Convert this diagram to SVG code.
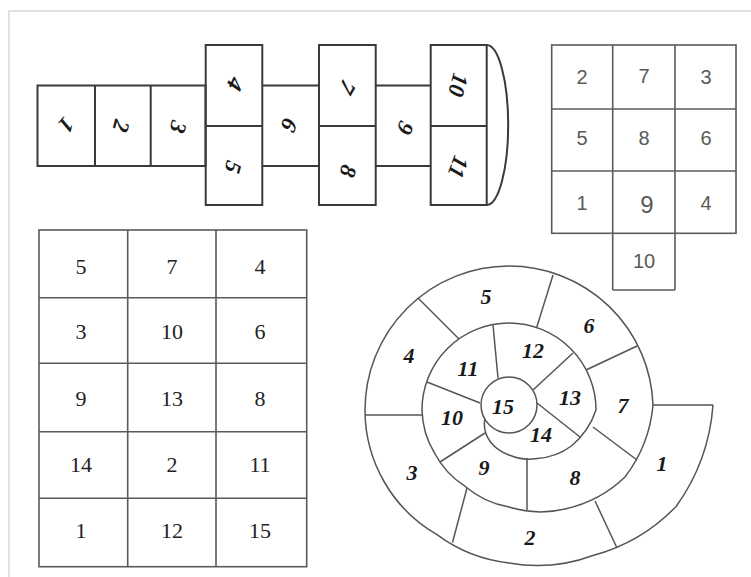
<svg xmlns="http://www.w3.org/2000/svg" width="751" height="577" viewBox="0 0 751 577">
<style>
.frame{fill:none;stroke:#e2e2e2;stroke-width:2}
.ln{fill:none;stroke:#3a3a3a;stroke-width:2}
.g{fill:none;stroke:#5a5a5a;stroke-width:1.6}
.sl{fill:none;stroke:#555;stroke-width:1.5}
.hs{font-family:"Liberation Serif",serif;font-style:italic;font-weight:bold;font-size:23px;fill:#1a1a1a;text-anchor:middle;dominant-baseline:central}
.rg{font-family:"Liberation Sans",sans-serif;font-size:20px;fill:#5a5a5a;text-anchor:middle;dominant-baseline:central}
.lg{font-family:"Liberation Serif",serif;font-size:22px;fill:#222;text-anchor:middle;dominant-baseline:central}
.sp{font-family:"Liberation Serif",serif;font-style:italic;font-weight:bold;font-size:22px;fill:#1a1a1a;text-anchor:middle;dominant-baseline:central}
</style>
<rect x="0" y="0" width="751" height="577" fill="#ffffff"/>
<path class="frame" d="M9,577 V11 H751"/>

<g id="hopscotch">
  <g class="ln">
    <rect x="37.5" y="85.5" width="168" height="80.5"/>
    <line x1="95" y1="85.5" x2="95" y2="166"/>
    <line x1="150.7" y1="85.5" x2="150.7" y2="166"/>
    <rect x="205.7" y="45" width="56.6" height="160"/>
    <line x1="205.7" y1="126" x2="262.3" y2="126"/>
    <line x1="262.3" y1="85.5" x2="319" y2="85.5"/>
    <line x1="262.3" y1="166" x2="319" y2="166"/>
    <rect x="319" y="45" width="56.7" height="160"/>
    <line x1="319" y1="126" x2="375.7" y2="126"/>
    <line x1="375.7" y1="85.5" x2="430.7" y2="85.5"/>
    <line x1="375.7" y1="166" x2="430.7" y2="166"/>
    <rect x="430.7" y="45" width="56" height="160"/>
    <line x1="430.7" y1="126" x2="486.7" y2="126"/>
    <path d="M486.7,45 A21.5,80 0 0 1 486.7,205"/>
  </g>
  <text class="hs" transform="translate(66,125) rotate(130)">1</text>
  <text class="hs" transform="translate(121,126) rotate(105)">2</text>
  <text class="hs" transform="translate(178,127) rotate(105)">3</text>
  <text class="hs" transform="translate(235,84) rotate(115)">4</text>
  <text class="hs" transform="translate(233,167) rotate(105)">5</text>
  <text class="hs" transform="translate(289,125) rotate(115)">6</text>
  <text class="hs" transform="translate(347,87) rotate(120)">7</text>
  <text class="hs" transform="translate(348,171) rotate(105)">8</text>
  <text class="hs" transform="translate(405,128) rotate(115)">9</text>
  <text class="hs" transform="translate(458,85) rotate(105)">10</text>
  <text class="hs" transform="translate(458,167) rotate(110)">11</text>
</g>

<g id="grid-right">
  <g class="g">
    <rect x="551.7" y="45" width="184.3" height="188.3"/>
    <line x1="612.7" y1="45" x2="612.7" y2="290"/>
    <line x1="675" y1="45" x2="675" y2="290"/>
    <line x1="551.7" y1="109" x2="736" y2="109"/>
    <line x1="551.7" y1="171" x2="736" y2="171"/>
    <line x1="612.7" y1="290" x2="675" y2="290"/>
  </g>
  <text class="rg" x="582" y="77">2</text>
  <text class="rg" x="644" y="76">7</text>
  <text class="rg" x="706" y="77">3</text>
  <text class="rg" x="582" y="138">5</text>
  <text class="rg" x="644" y="138">8</text>
  <text class="rg" x="706" y="138">6</text>
  <text class="rg" x="582" y="203">1</text>
  <text class="rg" x="647" y="204" style="font-size:24px">9</text>
  <text class="rg" x="706" y="203">4</text>
  <text class="rg" x="644" y="261">10</text>
</g>

<g id="grid-left">
  <g class="g">
    <rect x="39" y="230" width="267.7" height="336.7"/>
    <line x1="127.7" y1="230" x2="127.7" y2="566.7"/>
    <line x1="216" y1="230" x2="216" y2="566.7"/>
    <line x1="39" y1="297.7" x2="306.7" y2="297.7"/>
    <line x1="39" y1="363.3" x2="306.7" y2="363.3"/>
    <line x1="39" y1="431.7" x2="306.7" y2="431.7"/>
    <line x1="39" y1="498.3" x2="306.7" y2="498.3"/>
  </g>
  <text class="lg" x="81" y="266">5</text>
  <text class="lg" x="172" y="266">7</text>
  <text class="lg" x="260" y="266">4</text>
  <text class="lg" x="81" y="331">3</text>
  <text class="lg" x="172" y="331">10</text>
  <text class="lg" x="260" y="331">6</text>
  <text class="lg" x="81" y="398">9</text>
  <text class="lg" x="172" y="398">13</text>
  <text class="lg" x="260" y="398">8</text>
  <text class="lg" x="81" y="464">14</text>
  <text class="lg" x="172" y="464">2</text>
  <text class="lg" x="260" y="464">11</text>
  <text class="lg" x="81" y="530">1</text>
  <text class="lg" x="172" y="530">12</text>
  <text class="lg" x="260" y="530">15</text>
</g>

<g id="spiral">
  <g class="sl">
    <path d="M713,405 A198.5,198.5 0 0 1 676.1,506.5 A180.5,180.5 0 0 1 593,555.5 A160,160 0 0 1 509,563 A148,148 0 0 1 437,534.7 A144,144 0 0 1 384.3,482 A144,144 0 0 1 365,410 A144,144 0 0 1 509,266 A144,144 0 0 1 653,405 A139,139 0 0 1 625,477 A124,124 0 0 1 566,508.7 A105.5,105.5 0 0 1 509,507 A92.5,92.5 0 0 1 465,486.2 A87,87 0 0 1 434.5,453 A86.5,86.5 0 0 1 422,410 A87,87 0 0 1 509,323 A87,87 0 0 1 596,410 A79.5,79.5 0 0 1 571.4,446 A64,64 0 0 1 537,458.5 A50.5,50.5 0 0 1 509,455 A41,41 0 0 1 490.5,442 A30,30 0 0 1 484.8,419"/>
    <circle cx="509" cy="405" r="28"/>
    <line x1="653" y1="405" x2="713" y2="405"/>
    <line x1="595" y1="501" x2="617" y2="548"/>
    <line x1="467" y1="488" x2="452.5" y2="542.5"/>
    <line x1="365" y1="415" x2="422" y2="415"/>
    <line x1="418" y1="298" x2="459" y2="339"/>
    <line x1="553" y1="275" x2="536.5" y2="328"/>
    <line x1="586" y1="370" x2="637" y2="346"/>
    <line x1="593" y1="427" x2="637" y2="460"/>
    <line x1="527" y1="458" x2="527" y2="510"/>
    <line x1="440" y1="462" x2="485" y2="433"/>
    <line x1="427" y1="382" x2="480" y2="403"/>
    <line x1="493" y1="325" x2="498" y2="378"/>
    <line x1="573" y1="353" x2="533" y2="390"/>
    <line x1="537" y1="403" x2="580" y2="437"/>
  </g>
  <text class="sp" x="662" y="463">1</text>
  <text class="sp" x="530" y="537">2</text>
  <text class="sp" x="412" y="472">3</text>
  <text class="sp" x="409" y="355">4</text>
  <text class="sp" x="486" y="296">5</text>
  <text class="sp" x="589" y="325">6</text>
  <text class="sp" x="623" y="405">7</text>
  <text class="sp" x="575" y="477">8</text>
  <text class="sp" x="484" y="467">9</text>
  <text class="sp" x="452" y="417">10</text>
  <text class="sp" x="468" y="368">11</text>
  <text class="sp" x="533" y="350">12</text>
  <text class="sp" x="570" y="397">13</text>
  <text class="sp" x="541" y="434">14</text>
  <text class="sp" x="503" y="406">15</text>
</g>
</svg>
